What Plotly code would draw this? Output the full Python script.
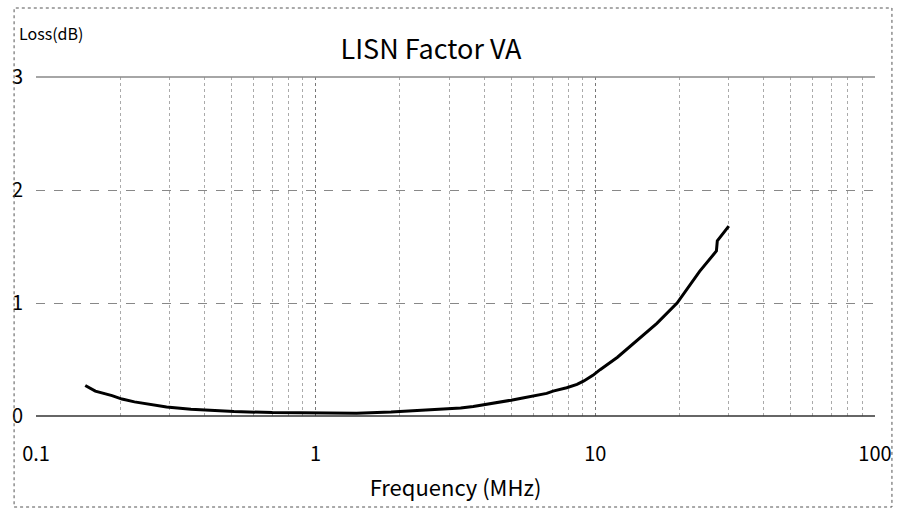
import plotly.graph_objects as go

# Data
freq_mhz = [0.15, 0.163, 0.187, 0.203, 0.225, 0.253, 0.293, 0.358, 0.51, 0.7, 1.0, 1.4, 1.86,
            2.4, 2.88, 3.3, 3.66, 4.3, 5.0, 5.5, 6.0, 6.7, 7.06, 7.9, 8.6, 9.1, 9.8, 10.4,
            12.0, 13.7, 16.6, 19.6, 23.6, 27.1, 27.3, 30.0]
loss_db = [0.27, 0.22, 0.18, 0.15, 0.125, 0.105, 0.08, 0.06, 0.04, 0.03, 0.025, 0.025, 0.035,
           0.05, 0.06, 0.07, 0.085, 0.11, 0.14, 0.16, 0.18, 0.20, 0.22, 0.25, 0.28, 0.31, 0.36, 0.41,
           0.52, 0.64, 0.82, 1.0, 1.28, 1.46, 1.55, 1.68]

x_ticks = [0.1, 1, 10, 100]
x_tick_labels = ["0.1", "1", "10", "100"]
x_minor = [m * d for d in (0.1, 1, 10) for m in range(2, 10)]
y_ticks = [0, 1, 2, 3]

FONT = "Noto Sans CJK JP, Liberation Sans Narrow, Roboto, sans-serif"

W, H = 904, 509
L, R, T, B = 33, 875, 77, 416

fig = go.Figure()
fig.add_trace(go.Scatter(x=freq_mhz, y=loss_db, mode="lines",
                         line=dict(color="black", width=3), showlegend=False))

fig.update_layout(
    width=W, height=H,
    margin=dict(l=L, r=W - R, t=T, b=H - B, pad=0),
    paper_bgcolor="white", plot_bgcolor="white",
    font=dict(family=FONT, color="black"),
    title=dict(text="LISN Factor VA", x=431 / W, xanchor="center",
               y=1 - 50 / H, yanchor="middle", yref="container",
               font=dict(size=27, family=FONT, color="black")),
)

fig.update_xaxes(
    type="log", range=[-1, 2],
    tickmode="array", tickvals=x_ticks, ticktext=x_tick_labels,
    tickfont=dict(size=20), ticks="", ticklabelstandoff=24,
    showgrid=True, gridcolor="#777777", griddash="dot", gridwidth=1,
    minor=dict(tickmode="array", tickvals=x_minor, showgrid=True,
               gridcolor="#aaaaaa", griddash="dot", gridwidth=1, ticks=""),
    showline=False, zeroline=False,
    title=dict(text="Frequency (MHz)", font=dict(size=22), standoff=14),
)
fig.update_yaxes(
    range=[0, 3], tickmode="array", tickvals=y_ticks,
    tickfont=dict(size=20), ticks="", ticklabelstandoff=12,
    showgrid=True, gridcolor="#888888", griddash="dash", gridwidth=1,
    showline=False, zeroline=False,
)

pw, ph = R - L, B - T
def px(x):
    return (x - L) / pw
def py(y):
    return (B - y) / ph

# axis baseline and top line
fig.add_shape(type="line", xref="paper", yref="paper", x0=0, x1=1, y0=0, y1=0,
              line=dict(color="#333333", width=1.5))
fig.add_shape(type="line", xref="paper", yref="paper", x0=0, x1=1, y0=1, y1=1,
              line=dict(color="#888888", width=1.5))
# outer dashed frame
fig.add_shape(type="rect", xref="paper", yref="paper",
              x0=px(11), x1=px(892), y0=py(507), y1=py(8),
              line=dict(color="#555555", width=1, dash="dot"))

fig.add_annotation(text="Loss(dB)", xref="paper", yref="paper",
                   x=px(14), y=py(33), xanchor="left", yanchor="middle",
                   showarrow=False, font=dict(size=16, family=FONT, color="black"))

fig.write_html("out.html", config={"displayModeBar": False},
               post_script="document.body.style.margin='0';document.body.style.overflow='hidden';")
